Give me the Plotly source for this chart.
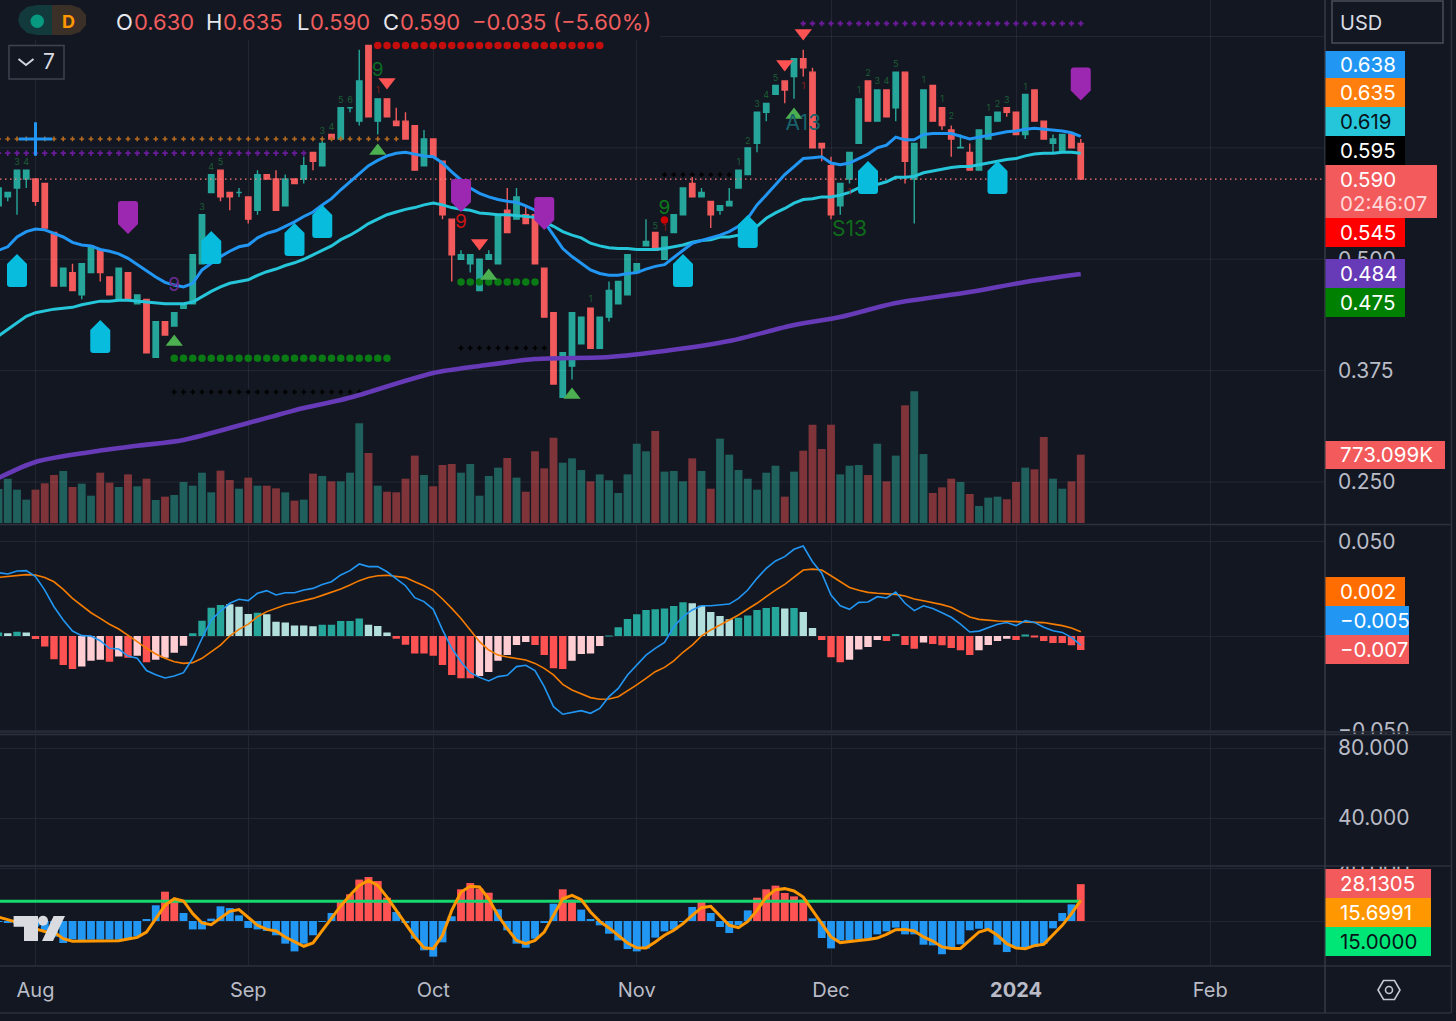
import plotly.graph_objects as go

W, H = 1456, 1021
BG = "#131722"
GRID = "#222632"
FRAME = "#363a45"
UP, DOWN = "#26a69a", "#f25a5c"
TICK = "#b9bcc6"

# ---------- candles (price, USD) ----------
opens = [.56,.57,.58,.59,.59,.585,.53,.47,.485,.46,.485,.51,.48,.455,.485,.45,.455,.39,.43,.425,
         .445,.45,.495,.575,.6,.575,.575,.57,.555,.595,.59,.56,.59,.59,.62,.605,.64,.635,.67,.655,
         .74,.655,.68,.655,.655,.65,.605,.635,.61,.545,.5,.495,.465,.5,.495,.555,.545,.55,.55,.49,
         .44,.345,.38,.405,.445,.4,.435,.45,.46,.485,.515,.53,.5,.53,.55,.585,.57,.565,.555,.56,
         .58,.595,.63,.665,.685,.7,.705,.725,.71,.63,.605,.56,.59,.63,.7,.655,.69,.67,.71,.59,
         .625,.695,.67,.645,.625,.62,.6,.635,.655,.67,.665,.64,.69,.655,.63,.62,.64,.63]
highs = [.58,.575,.6,.6,.59,.585,.53,.49,.495,.495,.515,.51,.48,.49,.485,.46,.455,.43,.43,.44,
         .45,.505,.55,.595,.6,.575,.58,.57,.6,.595,.6,.595,.59,.615,.62,.635,.64,.67,.67,.735,
         .74,.68,.68,.67,.665,.65,.645,.635,.61,.545,.51,.505,.5,.51,.55,.58,.58,.56,.55,.49,
         .44,.395,.44,.435,.445,.435,.475,.475,.505,.495,.545,.53,.525,.55,.58,.595,.58,.565,.56,.58,
         .6,.625,.665,.675,.695,.7,.725,.735,.715,.63,.615,.585,.62,.68,.7,.69,.69,.71,.71,.63,
         .69,.695,.67,.65,.64,.63,.645,.66,.665,.67,.665,.685,.69,.655,.64,.64,.64,.635]
lows = [.56,.565,.55,.58,.56,.535,.47,.47,.465,.455,.485,.475,.46,.455,.455,.45,.395,.39,.415,.425,
        .445,.45,.495,.575,.565,.555,.57,.54,.55,.59,.555,.56,.585,.585,.6,.605,.635,.635,.665,.65,
        .66,.64,.66,.65,.635,.6,.605,.615,.545,.475,.5,.485,.465,.5,.495,.53,.545,.54,.495,.435,
        .36,.345,.365,.405,.4,.4,.43,.45,.46,.485,.515,.51,.5,.53,.55,.57,.57,.535,.55,.56,
        .58,.595,.62,.655,.685,.675,.68,.705,.625,.61,.545,.55,.585,.63,.655,.655,.66,.655,.585,.54,
        .625,.655,.645,.615,.625,.6,.6,.635,.655,.66,.64,.635,.655,.635,.62,.62,.625,.59]
closes = [.58,.575,.6,.6,.565,.535,.47,.49,.465,.495,.515,.485,.46,.49,.455,.46,.395,.43,.415,.44,
          .45,.505,.55,.595,.57,.57,.575,.545,.595,.59,.555,.59,.585,.605,.61,.63,.635,.67,.67,.7,
          .66,.68,.66,.65,.635,.6,.635,.615,.55,.505,.505,.505,.5,.505,.55,.53,.57,.54,.495,.435,
          .36,.395,.44,.435,.4,.435,.465,.475,.505,.495,.52,.51,.525,.55,.58,.57,.575,.55,.56,.565,
          .6,.625,.665,.675,.695,.69,.725,.715,.625,.625,.55,.585,.62,.68,.655,.69,.66,.71,.61,.63,
          .69,.655,.65,.635,.6255,.6,.645,.66,.665,.665,.64,.685,.655,.635,.635,.64,.625,.59]

# ---------- volume (thousands) ----------
volumes = [385,501,377,264,377,449,543,588,407,445,309,569,456,407,550,415,501,260,298,317,
           464,422,569,347,592,486,388,513,422,422,392,347,253,264,558,532,471,471,569,1127,
           792,422,354,347,501,762,543,415,656,667,569,667,309,532,626,735,513,354,811,618,
           965,682,731,599,471,550,483,339,550,897,811,1041,581,588,471,731,588,388,954,773,
           599,501,377,569,648,298,581,818,1112,837,1112,550,648,656,543,897,471,762,1331,1489,
           780,339,403,501,464,328,192,287,298,268,464,626,607,973,501,388,471,773]

# ---------- moving averages ----------
ma_fast = [.510,.514,.525,.531,.534,.533,.529,.525,.519,.516,.515,.511,.509,.506,.501,.494,.486,.480,.474,.471,
           .469,.473,.488,.496,.503,.509,.514,.516,.524,.529,.532,.537,.542,.548,.553,.561,.568,.578,.587,.597,
           .605,.611,.616,.619,.620,.618,.616,.615,.608,.598,.589,.580,.574,.570,.567,.565,.564,.560,.555,.542,
           .527,.512,.503,.496,.488,.484,.482,.482,.484,.485,.489,.492,.494,.502,.510,.518,.521,.524,.527,.531,
           .537,.546,.561,.572,.583,.595,.604,.613,.614,.615,.608,.606,.608,.613,.618,.625,.628,.637,.634,.634,
           .640,.641,.641,.641,.638,.635,.637,.639,.641,.643,.644,.646,.647,.646,.645,.644,.642,.638]
ma_mid = [.414,.421,.428,.436,.440,.442,.444,.445,.446,.449,.451,.453,.453,.454,.454,.453,.452,.451,.450,.450,
          .450,.452,.458,.464,.469,.473,.475,.477,.482,.486,.489,.493,.496,.500,.505,.510,.515,.522,.527,.533,
          .540,.545,.550,.553,.556,.558,.561,.563,.561,.558,.556,.555,.552,.551,.550,.550,.549,.548,.547,.542,
          .537,.531,.527,.524,.518,.515,.513,.512,.512,.511,.511,.511,.512,.514,.516,.519,.521,.522,.525,.525,
          .527,.533,.537,.546,.552,.557,.563,.567,.568,.570,.570,.572,.575,.580,.584,.584,.587,.592,.592,.593,
          .597,.599,.601,.603,.604,.604,.606,.608,.610,.612,.613,.616,.618,.619,.619,.620,.620,.619]
ma_slow_bar = [0,4,10,15,20,27,33,37,39,47,52,58,66,72,79,86,91,97,105,111,117]
ma_slow = [.2545,.2725,.2837,.2907,.2971,.3162,.3331,.3420,.3476,.3723,.3802,.3880,.3903,.3970,.4082,.4262,.4352,.4509,.4632,.4745,.4834]

macd_hist = [1.8,1.4,2.3,1.9,-1.6,-5.6,-12.3,-15.3,-17.5,-16.2,-13.1,-12.5,-13.6,-10.9,-11.5,-10.4,-13.9,-12.5,-11.5,-8.8,
             -5.1,1.4,8.1,15,16.4,16.8,15.5,11.6,12.3,11.5,7.6,7.1,5.6,5.6,5.1,6,6,7.9,7.9,9.2,
             6,5.3,1.9,-1.4,-4.6,-9.2,-9.2,-10.4,-15.3,-20.6,-22.4,-22.4,-21.2,-19,-13.1,-10.1,-4.8,-3.2,-4.8,-10.1,
             -17.1,-17.5,-13.1,-9.5,-9.2,-5.3,.2,4.6,9,11.5,13.8,14.1,14.6,15.9,17.8,17.3,16,12.7,10.6,8.8,
             9.7,10.9,13.8,14.8,15.3,14.6,14.8,12.7,4.2,-2.1,-11.3,-13.9,-12.5,-7.1,-5.8,-2.1,-2.6,1.1,-4.8,-6.7,
             -3.5,-4.2,-4.9,-6.3,-7.6,-10.1,-7.6,-4.8,-2.6,-1.4,-2.1,.7,-.4,-2.6,-3.7,-3.7,-4.9,-7.4]
macd_state = ("TPTPRRRRR" "KKKRKRKRKKKK" "TTTT" "PPP" "T" "PPPPPP" "TTTTT" "PPP" "RRRRRRRRR" "KKKKKK" "RRRR" "KKKK"
              "TTTTTTTTT" "PPPPP" "TTTTT" "P" "T" "PP" "RRR" "KKKK" "R" "T" "RR" "K" "RRRRR" "KKKK" "R" "T" "RRRRRR")
macd_line = [33.5,32.8,34.4,34.6,31.4,24.3,15.5,8.5,2.6,.2,0,-2.5,-6.5,-6.9,-10.6,-11.8,-18.3,-20.5,-22.2,-21.2,
             -19.4,-11.8,-1.2,8.5,13.2,17.3,19.4,18.7,22.6,24,21.7,22.9,22.9,24.3,25.2,27.3,28.7,32.3,34.6,38.1,
             36.7,36.7,34,30.5,26.6,20.3,18.2,14.1,3.2,-6.5,-13.6,-19.4,-21.9,-23.8,-21.5,-20.8,-16.2,-15.5,-18.3,-26.8,
             -37.4,-41.4,-40.6,-39.5,-40.9,-38.3,-32.1,-27.7,-20.6,-15.3,-10.1,-6.5,-3.4,4.9,10.2,13.8,16,16,16.4,16.9,
             19.9,24.3,30.5,35.8,39.7,42,45.9,47.6,39.3,33.2,21.7,16,14.1,17.8,18,20.8,20.1,23.3,17.3,13.4,
             16,14.5,12.3,9.9,6.3,2.1,2.6,4.6,6.2,7.1,5.5,8.1,7.2,4.6,2.8,1.9,-.7,-4.8]
macd_signal = [31,31.4,31.9,32.5,32.3,31,28.7,24.7,19.9,15.9,12.3,9.3,6.2,3.7,.5,-3,-6.5,-9.5,-11.8,-13.6,
               -14.5,-14.1,-11.8,-8.3,-4.8,0,3.5,6.3,10.2,12.9,14.8,16.4,17.6,18.7,19.9,21.5,23.1,24.9,27,29.3,
               31,31.9,32.1,31.7,30.9,28.7,26.6,24,19.6,14.6,9.3,3.2,-3,-7.4,-10.1,-11.1,-11.8,-12.7,-14.5,-17.1,
               -20.6,-25.6,-28.6,-30.7,-32.6,-33.5,-33.3,-32.1,-29.1,-25.9,-22.4,-18.9,-16.6,-13.2,-8.6,-4.8,0,3.2,5.8,8.5,
               11.1,14.3,17.3,20.8,24.3,27.3,30.9,34.9,35.4,34.9,31.9,28.9,25.7,24.2,23.1,22.6,22.4,22,21.2,19.6,
               18.7,17.8,16.6,15.2,12.5,10.1,8.8,8.3,7.9,7.8,7.6,7.6,7.4,7.1,6.3,5.5,4.2,2.3]

# ---------- bottom oscillator ----------
osc_hist = [-.5,-.8,-2,-3,-4,-7,-12,-16.8,-14,-14.8,-14.2,-14.2,-14.2,-14.2,-13.5,-11.7,1,12,22.4,16.3,
            6.1,-6.4,-6.4,1.8,11.2,9.9,4.3,-5.3,-6.4,-7.6,-10.9,-17.3,-23.2,-17.3,-10.9,-.3,6.1,14.5,20.4,31.6,
            33.6,30.5,17.8,6.9,-1.3,-13.5,-22.4,-27.2,-16.3,3.6,24.2,29,24.7,21.6,8.9,-7.1,-17.3,-20.4,-13.5,-1.5,
            13.2,24.2,16.3,8.7,1,-3.3,-9.7,-14.8,-21.4,-23.2,-21.1,-12.7,-7.9,-6.6,-.3,10.7,14.5,6.1,-4.6,-9.2,
            -3.3,8.1,17.8,24.2,27,21.4,18.8,16.3,2,-13,-20.9,-14.8,-14.8,-13.7,-13.5,-10.2,-7.9,-5.1,-10.2,-10.2,
            -18.1,-18.6,-25.4,-20.4,-17.8,-7.1,-5.9,-7.1,-18.1,-23.7,-20.4,-20.9,-19.8,-17.3,-5.6,6.1,12.7,28.13]
osc_line = [3,1,-1,-3,-6,-8,-8.4,-13.5,-15.5,-15.5,-15.3,-15.3,-15.5,-15,-13.7,-12.5,-8.4,1.8,12,17,
            15.3,5.6,-1.5,-2.8,2.5,7.4,8.7,3,-3.3,-6.4,-7.6,-12.2,-16,-19.3,-16.8,-7.1,2.5,11.5,19.6,27.2,
            31,27.2,18.3,8.1,-2,-12.2,-20.4,-21.1,-10.9,8.1,22.1,26.5,26,17,4.3,-5.9,-14.8,-17.3,-14.8,-8.4,
            4.3,17,19.6,16.3,6.9,-.3,-5.3,-10.9,-16.8,-20.4,-20.6,-16,-10.9,-7.1,-2,4.3,10.2,11.2,4.3,-3.3,
            -5.1,-.3,8.1,18.3,23.9,24.7,22.9,18.3,8.1,-2,-12.2,-16.5,-15.5,-14.8,-14.2,-13,-10.2,-6.6,-6.4,-7.6,
            -12.2,-15.3,-19.8,-20.9,-20.9,-14.8,-8.4,-6.4,-10.9,-17.3,-20.6,-21.1,-18.8,-17.8,-10.9,-3.3,5.6,15.7]
osc_level = 15.0
osc_threshold = 14.0

# ---------- time axis ----------
tick_bars = [4, 27, 47, 69, 90, 110, 131]
tick_labels = ["Aug", "Sep", "Oct", "Nov", "Dec", "<b>2024</b>", "Feb"]

# ---------- indicator overlays on the price pane ----------
last_price = 0.59
price_ticks = [.25, .375, .5, .625, .75]
house_up = [(2,.4868),(11,.4127),(23,.5126),(32,.5216),(35,.5418),(74,.4868),(81,.5306),(94,.5912),(108,.5912)]
house_down = [(14,.5474),(50,.5721),(59,.5519),(117,.6972)]
tri_up = [(19,.4071),(41,.6215),(53,.4812),(62,.3476),(86,.6619)]
tri_down = [(42,.6989),(52,.5182),(85,.7191),(87,.7539)]
# level, first bar, last bar, symbol, colour, size
levels = [(.74,41,65,"circle","#c40d0d",7.5),
          (.389,19,42,"circle","#0a7a14",7.5),
          (.4745,50,58,"circle","#0a7a14",7.5),
          (.351,19,40,"cross","#000000",4),
          (.4004,50,59,"cross","#000000",4),
          (.595,72,79,"cross","#000000",4),
          (.635,0,43,"cross","#b4691f",4),
          (.619,0,33,"cross","#6a1b9a",4.5),
          (.7646,87,117,"cross","#6a1b9a",4.5)]
big_labels = [(19,.47,"9","#6a2b92",19),(41,.7113,"9","#0b6b23",19),(50,.5407,"9","#cc1414",19),
              (72,.5564,"9","#0d7a1a",19),(87,.6507,"A13","#17626a",21),(92,.5317,"S13","#0f6b1a",21)]
count_bars = [2,3,22,23,24,35,36,37,38,64,71,80,81,82,83,84,93,94,95,96,97,100,102,103,107,108,109,111]
count_vals = [.608,.608,.558,.603,.608,.643,.648,.678,.678,.454,.537,.608,.632,.673,.683,.703,.689,.708,.699,.699,.718,.70,.679,.66,.669,.673,.678,.693]
count_text = list("3434" "5" "34" "56" "1" "5" "12345" "12345" "1" "1" "2" "123" "1")
red_count_bars = [41,72,87,92]
red_count_vals = [.689,.534,.694,.575]

bars = list(range(len(closes)))
x_left, x_right = (0 + 1.5) / 9.25, (1325 + 1.5) / 9.25


def fy(py):
    return 1 - py / H


def fx(px):
    return px / W


fig = go.Figure()

# volume pane is the base axis, price overlays it
fig.add_bar(x=bars, y=volumes, yaxis="y", width=.85, hoverinfo="skip",
            marker=dict(color=["#1f5f5c" if c >= o else "#7f3439" for o, c in zip(opens, closes)], line_width=0))

for t in price_ticks:
    fig.add_scatter(x=[71.5 if t == .75 else x_left, x_right], y=[t, t], yaxis="y2", mode="lines",
                    line=dict(color="rgba(255,255,255,0.07)", width=1), hoverinfo="skip")

fig.add_candlestick(x=bars, open=opens, high=highs, low=lows, close=closes, yaxis="y2", whiskerwidth=0,
                    increasing=dict(line=dict(color=UP, width=1.4), fillcolor=UP),
                    decreasing=dict(line=dict(color=DOWN, width=1.4), fillcolor=DOWN), hoverinfo="skip")

fig.add_scatter(x=[x_left, x_right], y=[last_price, last_price], yaxis="y2", mode="lines",
                line=dict(color="#ff7b7d", width=1.2, dash="1.5px 3.5px"), hoverinfo="skip")

for lv, a, b, sym, col, sz in levels:
    fig.add_scatter(x=list(range(a, b + 1)), y=[lv] * (b - a + 1), yaxis="y2", mode="markers", hoverinfo="skip",
                    marker=dict(symbol=sym, color=col, size=sz, line_width=0))

fig.add_scatter(x=ma_slow_bar, y=ma_slow, yaxis="y2", mode="lines", line=dict(color="#673ab7", width=4.6, shape="spline", smoothing=.8), hoverinfo="skip")
fig.add_scatter(x=bars, y=ma_mid, yaxis="y2", mode="lines", line=dict(color="#26c6da", width=3), hoverinfo="skip")
fig.add_scatter(x=bars, y=ma_fast, yaxis="y2", mode="lines", line=dict(color="#2196f3", width=3), hoverinfo="skip")

fig.add_scatter(x=[4], y=[.635], yaxis="y2", mode="markers", hoverinfo="skip",
                marker=dict(symbol="cross-thin", size=24, line=dict(color="#2196f3", width=3)))
fig.add_scatter(x=[b for b, _ in tri_up], y=[v for _, v in tri_up], yaxis="y2", mode="markers", hoverinfo="skip",
                marker=dict(symbol="triangle-up", size=15, color="#4caf50", line_width=0))
fig.add_scatter(x=[b for b, _ in tri_down], y=[v for _, v in tri_down], yaxis="y2", mode="markers", hoverinfo="skip",
                marker=dict(symbol="triangle-down", size=15, color="#ff5252", line_width=0))
fig.add_scatter(x=[72], y=[.5441], yaxis="y2", mode="markers", hoverinfo="skip", marker=dict(color="#cc0000", size=7.5))
for b, v, s, c, z in big_labels:
    fig.add_scatter(x=[b], y=[v], yaxis="y2", mode="text", text=[s], textfont=dict(color=c, size=z), hoverinfo="skip")
fig.add_scatter(x=count_bars, y=count_vals, yaxis="y2", mode="text", text=count_text,
                textfont=dict(color="#1c5e35", size=9), hoverinfo="skip")
fig.add_scatter(x=red_count_bars, y=red_count_vals, yaxis="y2", mode="text", text=["1"] * 4,
                textfont=dict(color="#8e1c1c", size=9), hoverinfo="skip")

# MACD pane
state_colors = {"T": "#26a69a", "P": "#b2dfdb", "K": "#ffcdd2", "R": "#ff5252"}
fig.add_bar(x=bars, y=[v / 1000 for v in macd_hist], yaxis="y3", width=.8, hoverinfo="skip",
            marker=dict(color=[state_colors[s] for s in macd_state], line_width=0))
fig.add_scatter(x=bars, y=[v / 1000 for v in macd_signal], yaxis="y3", mode="lines", line=dict(color="#f57c00", width=1.6), hoverinfo="skip")
fig.add_scatter(x=bars, y=[v / 1000 for v in macd_line], yaxis="y3", mode="lines", line=dict(color="#2196f3", width=1.6), hoverinfo="skip")

# empty pane
fig.add_scatter(x=[None], y=[None], yaxis="y4", mode="lines", hoverinfo="skip")

# oscillator pane
fig.add_bar(x=bars, y=osc_hist, yaxis="y5", width=.85, hoverinfo="skip",
            marker=dict(color=["#ff5252" if v >= osc_threshold else "#2196f3" for v in osc_hist], line_width=0))
fig.add_scatter(x=[x_left, bars[-1]], y=[osc_level, osc_level], yaxis="y5", mode="lines",
                line=dict(color="#17d86f", width=3), hoverinfo="skip")
fig.add_scatter(x=bars, y=osc_line, yaxis="y5", mode="lines", line=dict(color="#ff9800", width=3), hoverinfo="skip")

# ---------- shapes ----------
shapes = []


def pane_line(y0, y1=None):
    shapes.append(dict(type="line", xref="paper", yref="paper", x0=0, x1=fx(1451), y0=fy(y0), y1=fy(y0),
                       line=dict(color="#2d313c", width=1.5), layer="above"))


def rect(x0, y0, x1, y1, color, border=None, layer="above"):
    shapes.append(dict(type="rect", xref="paper", yref="paper", x0=fx(x0), x1=fx(x1), y0=fy(y0), y1=fy(y1),
                       fillcolor=color, line=dict(color=border or color, width=1.5 if border else 0), layer=layer))


def poly(points, color=None, stroke=None, width=0, close=True):
    d = "M " + " L ".join(f"{fx(a):.5f},{fy(b):.5f}" for a, b in points) + (" Z" if close else "")
    shapes.append(dict(type="path", xref="paper", yref="paper", path=d, layer="above",
                       fillcolor=color or "rgba(0,0,0,0)", line=dict(color=stroke or "rgba(0,0,0,0)", width=width)))


# backdrop of the status line hides grid
shapes.append(dict(type="rect", xref="x", yref="y", x0=x_left, x1=71.5, y0=5463, y1=5915, layer="between",
                   fillcolor=BG, line_width=0))

# clipping of tick labels at the pane borders
rect(1326, 734, 1451, 738.5, BG)
rect(1326, 856, 1451, 866, BG)
rect(1326, 43, 1451, 51, BG)

for yy in (524.5, 732, 734.5, 866, 966, 1013):
    pane_line(yy)
shapes.append(dict(type="line", xref="paper", yref="paper", x0=fx(1325), x1=fx(1325), y0=fy(0), y1=fy(1013),
                   line=dict(color=FRAME, width=1.5), layer="above"))
shapes.append(dict(type="line", xref="paper", yref="paper", x0=fx(1451.5), x1=fx(1451.5), y0=fy(0), y1=fy(1013),
                   line=dict(color="#2d313c", width=1.5), layer="above"))

HOUSE_UP = "M -10,7 L 0,17 L 10,7 L 10,-13 Q 10,-16 7,-16 L -7,-16 Q -10,-16 -10,-13 Z"
HOUSE_DOWN = "M -10,-7 L 0,-17 L 10,-7 L 10,13 Q 10,16 7,16 L -7,16 Q -10,16 -10,13 Z"
for b, v in house_up:
    shapes.append(dict(type="path", xref="x", yref="y2", xsizemode="pixel", ysizemode="pixel", xanchor=b, yanchor=v,
                       path=HOUSE_UP, fillcolor="#08bcdd", line_width=0, layer="above"))
for b, v in house_down:
    shapes.append(dict(type="path", xref="x", yref="y2", xsizemode="pixel", ysizemode="pixel", xanchor=b, yanchor=v,
                       path=HOUSE_DOWN, fillcolor="#9c27b0", line_width=0, layer="above"))

# TradingView mark
poly([(13.6, 916), (38, 916), (38, 941), (24, 941), (24, 926.7), (13.6, 926.7)], "#d9dbe0")
poly([(53.6, 916), (65, 916), (53, 941), (42, 941)], "#d9dbe0")
shapes.append(dict(type="circle", xref="paper", yref="paper", x0=fx(38), x1=fx(48), y0=fy(915.7), y1=fy(925.7),
                   fillcolor="#d9dbe0", line_width=0, layer="above"))

# status pill
poly([(37, 5), (52, 5), (52, 35), (37, 35), (27, 33), (20, 26), (18, 20), (20, 13), (27, 7)], "#123a3c")
poly([(52, 5), (71, 5), (80, 8), (86, 15), (86, 25), (80, 32), (71, 35), (52, 35)], "#3a3028")
shapes.append(dict(type="circle", xref="paper", yref="paper", x0=fx(30.5), x1=fx(44), y0=fy(14.5), y1=fy(28),
                   fillcolor="#089981", line_width=0, layer="above"))

# collapse button
rect(9, 45.5, 64, 79, BG, "#3f4350")
poly([(18.5, 59), (26, 65), (33.5, 59)], None, "#d1d4dc", 2, close=False)

# currency box
rect(1332, 1, 1443, 43, BG, "#4a4e5a")

# settings icon
poly([(1378, 990), (1383.5, 980.5), (1394.5, 980.5), (1400, 990), (1394.5, 999.5), (1383.5, 999.5)], None, "#c5c8d0", 1.6)
shapes.append(dict(type="circle", xref="paper", yref="paper", x0=fx(1385.5), x1=fx(1392.5), y0=fy(986.5), y1=fy(993.5),
                   fillcolor="rgba(0,0,0,0)", line=dict(color="#c5c8d0", width=1.6), layer="above"))

# ---------- badges and text ----------
annotations = []


def txt(px, py, s, size=20, color="#ffffff", anchor="left"):
    annotations.append(dict(xref="paper", yref="paper", x=fx(px), y=fy(py), text=s, showarrow=False, xanchor=anchor,
                            yanchor="middle", font=dict(size=size, color=color), borderpad=0))


badge_data = [(51, 78, 1405, "#2196f3", "0.638", "#ffffff"),
              (78, 107, 1405, "#ff7f0e", "0.635", "#ffffff"),
              (107, 136, 1405, "#26c6da", "0.619", "#06141a"),
              (136, 165, 1405, "#000000", "0.595", "#ffffff"),
              (218, 247, 1405, "#ff0000", "0.545", "#ffffff"),
              (259, 288, 1405, "#673ab7", "0.484", "#ffffff"),
              (288, 317, 1405, "#008000", "0.475", "#ffffff"),
              (441, 469, 1445, DOWN, "773.099K", "#ffffff"),
              (577, 606, 1405, "#ff6d00", "0.002", "#ffffff"),
              (606, 635, 1409, "#2196f3", "−0.005", "#ffffff"),
              (635, 664, 1409, DOWN, "−0.007", "#ffffff"),
              (869, 898, 1431, DOWN, "28.1305", "#ffffff"),
              (898, 927, 1431, "#ff9800", "15.6991", "#ffffff"),
              (927, 956, 1431, "#00e676", "15.0000", "#06141a")]
for y0, y1, x1, bgc, label, fg in badge_data:
    rect(1325.5, y0, x1, y1, bgc)
    txt(1338.5, (y0 + y1) / 2, label, 20.5, fg)
rect(1325.5, 165, 1437, 218, DOWN)
txt(1338.5, 179.5, "0.590", 20.5, "#ffffff")
txt(1338.5, 204, "02:46:07", 20.5, "#ffd9da")

txt(1339, 23, "USD", 20, "#d8dbe2")
txt(49, 62, "7", 21, "#d8dbe2", "center")
txt(68, 21, "<b>D</b>", 18, "#ff9800", "center")

RED_TXT = "#ef5d5d"
WHITE_TXT = "#e6e8ee"
ohlc_tokens = [(115, "O", WHITE_TXT), (133, "0.630", RED_TXT), (205, "H", WHITE_TXT), (222, "0.635", RED_TXT),
               (296, "L", WHITE_TXT), (309, "0.590", RED_TXT), (382, "C", WHITE_TXT), (399, "0.590", RED_TXT),
               (471, "−0.035", RED_TXT), (552, "(−5.60%)", RED_TXT)]
for px, s, c in ohlc_tokens:
    txt(px, 22, s, 22, c)

# ---------- layout ----------
axis_common = dict(showline=False, zeroline=False, ticks="", tickfont=dict(size=21, color=TICK), anchor="x", side="right",
                   ticklabelstandoff=12, automargin=False)

fig.update_layout(
    width=W, height=H, autosize=False, margin=dict(l=0, r=0, t=0, b=0, pad=0), showlegend=False,
    paper_bgcolor=BG, plot_bgcolor=BG, barmode="overlay", hovermode=False, boxgap=0.17,
    font=dict(family="Inter, 'Noto Sans', sans-serif", color=TICK),
    shapes=shapes, annotations=annotations,
    xaxis=dict(domain=[0, fx(1325)], range=[x_left, x_right], anchor="y5", tickmode="array", tickvals=tick_bars,
               ticktext=tick_labels, showgrid=True, gridcolor=GRID, gridwidth=1, zeroline=False, showline=False, ticks="",
               tickfont=dict(size=20, color=TICK), ticklabelstandoff=10, rangeslider=dict(visible=False), tickangle=0,
               automargin=False),
    yaxis=dict(domain=[fy(524.5), 1], range=[-17, 5915], showgrid=False, showticklabels=False, zeroline=False, anchor="x",
               side="right", automargin=False),
    yaxis2=dict(overlaying="y", range=[.25 - 42.5 / 891, .25 + 482 / 891], tickmode="array", tickvals=price_ticks,
                ticktext=[f"{t:.3f}" for t in price_ticks], showgrid=False, **axis_common),
    yaxis3=dict(domain=[fy(733), fy(524.5)], range=[(636 - 733) / 1890, (636 - 524.5) / 1890], tickmode="array",
                tickvals=[-.05, 0, .05], ticktext=["−0.050", "0", "0.050"], showgrid=True, gridcolor=GRID, **axis_common),
    yaxis4=dict(domain=[fy(866), fy(734)], range=[12.6, 88], tickmode="array", tickvals=[40, 80],
                ticktext=["40.000", "80.000"], showgrid=True, gridcolor=GRID, **axis_common),
    yaxis5=dict(domain=[fy(966), fy(866)], range=[(921 - 966) / 1.31, (921 - 866) / 1.31], tickmode="array", tickvals=[0, 40],
                ticktext=["0.000", "40.000"], showgrid=True, gridcolor=GRID, **axis_common),
)

fig.write_html("out.html", config={"displayModeBar": False},
               post_script="document.body.style.margin='0';document.body.style.overflow='hidden';document.body.style.background='#131722';")
